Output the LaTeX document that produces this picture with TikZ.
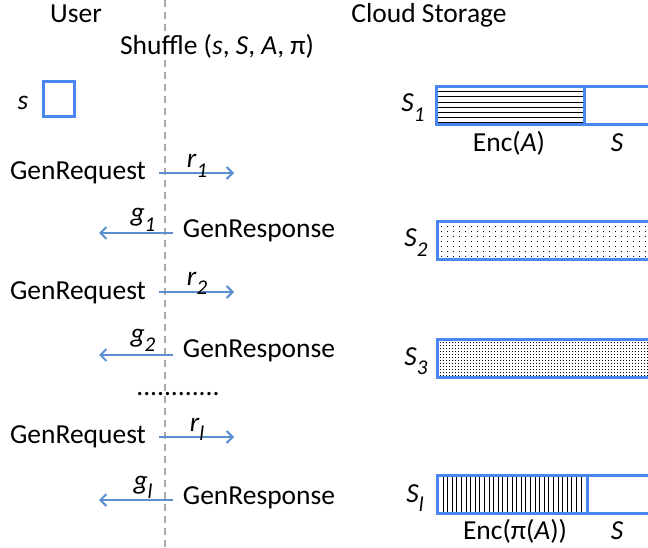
\documentclass[tikz,border=0pt]{standalone}
\usepackage{fontspec}
\setmainfont{Carlito}
\usetikzlibrary{arrows.meta}
\definecolor{boxblue}{RGB}{74,134,240}
\definecolor{arrblue}{RGB}{91,143,207}
\definecolor{dashgray}{RGB}{170,170,170}
\newcommand{\Sub}[2]{\textit{#1}\raisebox{-0.33em}{\fontsize{21}{21}\selectfont\textit{#2}}}
\begin{document}
\begin{tikzpicture}[x=1pt,y=-1pt,
  lbl/.style={font=\fontsize{27.5}{32}\selectfont, inner sep=0pt, anchor=base},
  msg/.style={draw=arrblue, line width=2pt, -{Straight Barb[length=6pt,width=12pt,line width=2pt]}},
  bar/.style={draw=boxblue, line width=3pt},
  hatch/.style={black, line width=0.9pt},
  dotfill/.style={black}]
\useasboundingbox (0,0) rectangle (648,548);
\clip (0,0) rectangle (648,548);

% lifeline
\coordinate (ltop) at (165,0);
\coordinate (lbot) at (165,548);
\draw[dashgray, line width=2pt, dash pattern=on 7pt off 5pt] (ltop) -- (lbot);

% headings
\node[lbl] (user) at (76,23) {User};
\node[lbl] (cloud) at (429,23) {Cloud Storage};
\node[lbl] (shuffle) at (217,55) {Shuffle (\textit{s}, \textit{S}, \textit{A}, π)};

% s box
\node[lbl] (slab) at (23,110) {\textit{s}};
\node[draw=boxblue, line width=2.5pt, minimum width=31pt, minimum height=35pt, inner sep=0pt] (sbox) at (59,99) {};

% messages
\node[lbl] (req1) at (78,180) {GenRequest};
\coordinate (r1a) at (159,173); \coordinate (r1b) at (234,173);
\draw[msg] (r1a) -- (r1b);
\node[lbl] (r1) at (197,168) {\Sub{r}{1}};

\node[lbl] (resp1) at (259,238) {GenResponse};
\coordinate (g1a) at (173,233); \coordinate (g1b) at (99,233);
\draw[msg] (g1a) -- (g1b);
\node[lbl] (g1) at (143,222) {\Sub{g}{1}};

\node[lbl] (req2) at (78,299) {GenRequest};
\coordinate (r2a) at (159,292); \coordinate (r2b) at (234,292);
\draw[msg] (r2a) -- (r2b);
\node[lbl] (r2) at (197,285) {\Sub{r}{2}};

\node[lbl] (resp2) at (259,357) {GenResponse};
\coordinate (g2a) at (173,355); \coordinate (g2b) at (99,355);
\draw[msg] (g2a) -- (g2b);
\node[lbl] (g2) at (143,342) {\Sub{g}{2}};

\node[lbl] (dots) at (178,395) {............};

\node[lbl] (reql) at (78,443) {GenRequest};
\coordinate (rla) at (159,437); \coordinate (rlb) at (234,437);
\draw[msg] (rla) -- (rlb);
\node[lbl] (rl) at (197,431) {\Sub{r}{l}};

\node[lbl] (respl) at (259,504) {GenResponse};
\coordinate (gla) at (173,500); \coordinate (glb) at (99,500);
\draw[msg] (gla) -- (glb);
\node[lbl] (gl) at (143,489) {\Sub{g}{l}};

% S1 bar
\foreach \j in {0,...,6} \draw[hatch] (436,91.7+5.2*\j) -- (584,91.7+5.2*\j);
\draw[bar] (436,87) rectangle (660,125);
\draw[bar] (584,87) -- (584,125);
\node[lbl] (s1) at (413,112) {\Sub{S}{1}};
\node[lbl] (encA) at (509,152) {Enc(\textit{A})};
\node[lbl] (sS1) at (617,152) {\textit{S}};

% S2 bar
\foreach \i in {0,...,36} \foreach \j in {0,...,6} \fill[dotfill] (441+6*\i,226+5*\j) rectangle ++(1,1);
\draw[bar] (437,222) rectangle (660,260);
\node[lbl] (s2) at (416,247) {\Sub{S}{2}};

% S3 bar
\foreach \i in {0,...,70} \foreach \j in {0,...,11} \fill[dotfill] (440+3*\i,342+3*\j) rectangle ++(1,1);
\draw[bar] (437,339) rectangle (660,377);
\node[lbl] (s3) at (416,365) {\Sub{S}{3}};

% Sl bar
\foreach \i in {0,...,30} \draw[hatch] (443+4.6*\i,475) -- (443+4.6*\i,513);
\draw[bar] (437,475) rectangle (660,513);
\draw[bar] (587,475) -- (587,513);
\node[lbl] (sl) at (415,502) {\Sub{S}{l}};
\node[lbl] (encPA) at (515,539) {Enc(π(\textit{A}))};
\node[lbl] (sSl) at (617,539) {\textit{S}};
\end{tikzpicture}
\end{document}
